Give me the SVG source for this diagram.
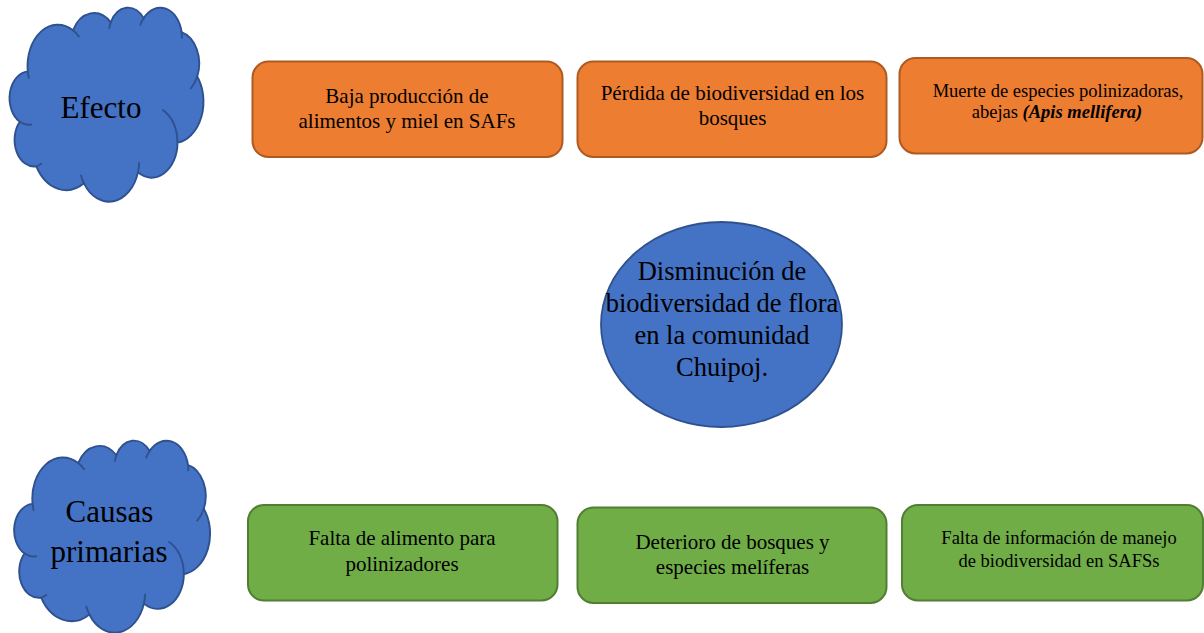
<svg xmlns="http://www.w3.org/2000/svg" xmlns:xlink="http://www.w3.org/1999/xlink" width="1204" height="633" viewBox="0 0 1204 633">
  <style>
    text { font-family: "Liberation Serif", "Times New Roman", serif; fill: #000; text-anchor: middle; }
    .cloud-fill { fill: #4472C4; stroke: #2F528F; stroke-width: 430; stroke-linejoin: round; }
    .cloud-line { fill: none; stroke: #2F528F; stroke-width: 430; stroke-linecap: round; }
    .effect { fill: #ED7D31; stroke: #AE5A21; stroke-width: 2; }
    .cause { fill: #70AD47; stroke: #507E32; stroke-width: 2; }
    .core { fill: #4472C4; stroke: #2F528F; stroke-width: 1.8; }
    .box-text { font-size: 21px; }
    .box-text-sm { font-size: 18.5px; }
    .big { font-size: 31px; }
    .center-text { font-size: 26.5px; }
  </style>
  <defs>
    <!-- cloud outline drawn in a 43200 x 43200 unit square -->
    <g id="cloud">
      <path class="cloud-fill" d="M3900,14370 A6753,9190 0 0 1 14005,5202 A5333,7267 0 0 1 22456,3433 A4365,5945 0 0 1 29833,2483 A4857,6595 0 0 1 38316,5581 A5333,7273 0 0 1 41816,15465 A6775,9220 0 0 1 37402,30207 A5785,7867 0 0 1 28554,36817 A6752,9215 0 0 1 16477,39267 A7720,10543 0 0 1 5799,35471 A4360,5918 0 0 1 2108,25550 A4345,5945 0 0 1 3900,14370 Z"/>
      <path class="cloud-line" d="M4127,15789 A6753,9190 0 0 1 3900,14370 M4693,26177 A4345,5945 0 0 1 2108,25550 M6928,34899 A4360,5918 0 0 1 5799,35471 M16477,39267 A6752,9215 0 0 1 15810,37527 M28827,34751 A6752,9215 0 0 1 28554,36817 M34129,22954 A5785,7867 0 0 1 37381,30090 M41816,15465 A5333,7273 0 0 1 40368,18142 M38316,5581 A4857,6595 0 0 1 38392,6844 M29078,3952 A4857,6595 0 0 1 29833,2483 M22141,4720 A4365,5945 0 0 1 22456,3433 M14005,5202 A6753,9190 0 0 1 15307,6554"/>
    </g>
  </defs>

  <rect width="1204" height="633" fill="#FFFFFF"/>

  <!-- no connectors in this chart -->
  <g id="connectors"/>

  <!-- row labels -->
  <g id="label-efecto">
    <use xlink:href="#cloud" href="#cloud" transform="translate(10.4,7) scale(0.004468,0.004491)"/>
    <text class="big" x="101" y="118">Efecto</text>
  </g>
  <g id="label-causas">
    <use xlink:href="#cloud" href="#cloud" transform="translate(15,440) scale(0.004514,0.004444)"/>
    <text class="big" x="109.5" y="522">Causas</text>
    <text class="big" x="109" y="562">primarias</text>
  </g>

  <!-- effects -->
  <g id="effect-1">
    <rect class="effect" x="252.5" y="61.5" width="310" height="95.5" rx="16"/>
    <text class="box-text" x="407" y="103.3">Baja producción de</text>
    <text class="box-text" x="407" y="128.3">alimentos y miel en SAFs</text>
  </g>
  <g id="effect-2">
    <rect class="effect" x="577.5" y="61.5" width="309" height="95.5" rx="16"/>
    <text class="box-text" x="732.5" y="100">Pérdida de biodiversidad en los</text>
    <text class="box-text" x="732.5" y="125">bosques</text>
  </g>
  <g id="effect-3">
    <rect class="effect" x="899.5" y="58" width="303" height="95.5" rx="16"/>
    <text class="box-text-sm" x="1058" y="96.5">Muerte de especies polinizadoras,</text>
    <text class="box-text-sm" x="1057" y="118">abejas <tspan font-weight="bold" font-style="italic">(Apis mellifera)</tspan></text>
  </g>

  <!-- central problem -->
  <g id="problem">
    <ellipse class="core" cx="721.5" cy="324.5" rx="120.5" ry="102.5"/>
    <text class="center-text" x="722" y="280">Disminución de</text>
    <text class="center-text" x="722" y="312">biodiversidad de flora</text>
    <text class="center-text" x="722" y="344">en la comunidad</text>
    <text class="center-text" x="722" y="376">Chuipoj.</text>
  </g>

  <!-- primary causes -->
  <g id="cause-1">
    <rect class="cause" x="248" y="505" width="309.5" height="95.5" rx="16"/>
    <text class="box-text" x="402" y="545">Falta de alimento para</text>
    <text class="box-text" x="402" y="571">polinizadores</text>
  </g>
  <g id="cause-2">
    <rect class="cause" x="577.5" y="507.5" width="309" height="95.5" rx="16"/>
    <text class="box-text" x="732.5" y="549">Deterioro de bosques y</text>
    <text class="box-text" x="732.5" y="573.5">especies melíferas</text>
  </g>
  <g id="cause-3">
    <rect class="cause" x="902" y="505" width="301" height="95.5" rx="16"/>
    <text class="box-text-sm" x="1059" y="543.5">Falta de información de manejo</text>
    <text class="box-text-sm" x="1059" y="566.5">de biodiversidad en SAFSs</text>
  </g>
</svg>
